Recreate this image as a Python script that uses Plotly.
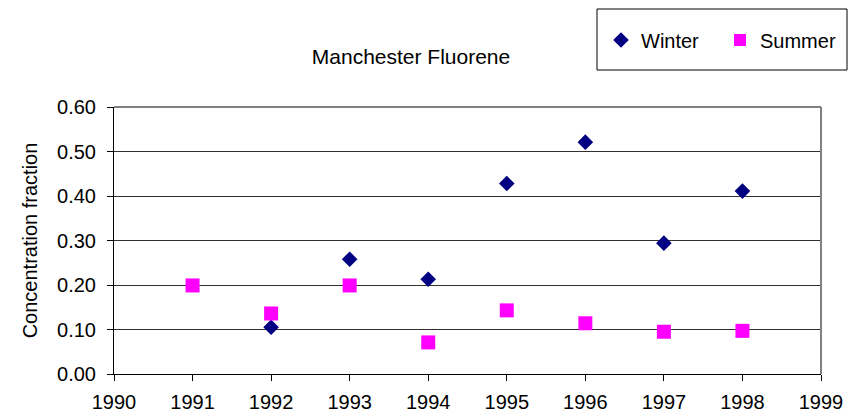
import plotly.graph_objects as go

winter_years = [1992, 1993, 1994, 1995, 1996, 1997, 1998]
winter_values = [0.105, 0.258, 0.213, 0.428, 0.521, 0.294, 0.411]
summer_years = [1991, 1992, 1993, 1994, 1995, 1996, 1997, 1998]
summer_values = [0.199, 0.136, 0.199, 0.071, 0.143, 0.114, 0.095, 0.097]
x_ticks = list(range(1990, 2000))
y_ticks = [0.0, 0.1, 0.2, 0.3, 0.4, 0.5, 0.6]

FONT = "Liberation Sans, Arial, sans-serif"
L, R, T, B = 114, 821, 107, 374
PW, PH = R - L, B - T

def px(x):
    return (x - L) / PW

def py(y):
    return (B - y) / PH

fig = go.Figure()
fig.add_trace(go.Scatter(x=winter_years, y=winter_values, mode="markers", name="Winter",
                         marker=dict(symbol="diamond", size=12, color="#000080")))
fig.add_trace(go.Scatter(x=summer_years, y=summer_values, mode="markers", name="Summer",
                         marker=dict(symbol="square", size=14, color="#FF00FF")))

fig.update_layout(
    width=852, height=420,
    margin=dict(l=L, r=852 - R, t=T, b=420 - B, autoexpand=False),
    paper_bgcolor="white", plot_bgcolor="white",
    font=dict(family=FONT, size=20, color="black"),
    title=dict(text="Manchester Fluorene", x=411 / 852, xanchor="center",
               y=1 - 57 / 420, yanchor="middle", font=dict(size=21)),
    showlegend=True,
    legend=dict(orientation="h", x=px(601), xanchor="left",
                y=py(40), yanchor="middle",
                bgcolor="rgba(0,0,0,0)", borderwidth=0, font=dict(size=20),
                entrywidth=74, itemsizing="constant", tracegroupgap=0),
    shapes=[
        dict(type="rect", xref="paper", yref="paper",
             x0=px(597), x1=px(847), y0=py(70), y1=py(9),
             line=dict(color="black", width=1), fillcolor="rgba(0,0,0,0)"),
        dict(type="line", xref="paper", yref="paper", x0=0, x1=1, y0=1, y1=1,
             line=dict(color="#808080", width=2)),
        dict(type="line", xref="paper", yref="paper", x0=1, x1=1, y0=0, y1=1,
             line=dict(color="#808080", width=2)),
    ],
)
fig.update_xaxes(range=[1990, 1999], tickvals=x_ticks, ticktext=[str(v) for v in x_ticks],
                 showgrid=False, zeroline=False, showline=True, linecolor="black", linewidth=1,
                 ticks="outside", ticklen=6, tickcolor="black", tickfont=dict(size=20),
                 ticklabelstandoff=4)
fig.update_yaxes(range=[0, 0.6], tickvals=y_ticks, ticktext=[f"{v:.2f}" for v in y_ticks],
                 showgrid=True, gridcolor="#303030", gridwidth=1, zeroline=False,
                 showline=True, linecolor="black", linewidth=1,
                 ticks="outside", ticklen=6, tickcolor="black", tickfont=dict(size=20),
                 ticklabelstandoff=7,
                 title=dict(text="Concentration fraction", font=dict(size=20), standoff=14))

fig.write_html("out.html", config={"displayModeBar": False},
               post_script="document.body.style.margin='0';")
